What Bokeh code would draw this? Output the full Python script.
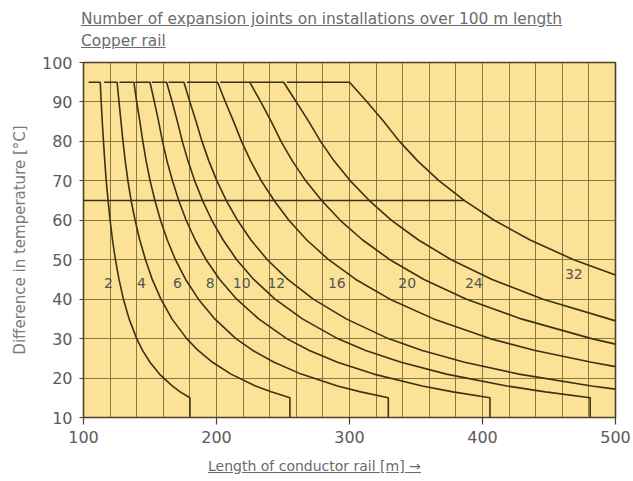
from bokeh.plotting import figure
from bokeh.models import FixedTicker, Div, Range1d
from bokeh.layouts import column
from bokeh.embed import file_html
from bokeh.resources import INLINE
from bokeh.core.properties import value

# ---------------- data ----------------
# temperature levels (deg C) at which the curve lengths were read
temp_levels = [95, 90, 85, 80, 75, 70, 65, 60, 55, 50, 45, 40, 35, 30, 27, 24, 21, 18, 16.5, 15]

joints = ["2", "4", "6", "8", "10", "12", "16", "20", "24", "32"]

# start of the flat part at 95 deg C for each curve (m)
flat_start = [103.8, 115.5, 127.0, 138.8, 151.4, 163.9, 177.7, 202.8, 225.3, 252.9]

# conductor length (m) of each curve at temp_levels
len_2 = [112.6, 113.3, 114.1, 115.0, 116.0, 117.1, 118.5, 120.0, 121.8, 124.0, 126.7, 130.0, 134.3, 140.0, 144.4, 150.0, 157.1, 166.7, 172.7, 180.0]
len_4 = [125.3, 126.7, 128.2, 129.7, 131.4, 133.4, 135.8, 138.8, 142.3, 146.6, 151.7, 158.2, 166.5, 177.6, 186.2, 197.0, 210.9, 229.3, 241.1, 255.2]
len_6 = [137.9, 140.0, 142.4, 144.6, 147.1, 150.1, 153.7, 157.9, 163.0, 169.1, 176.8, 186.4, 198.7, 214.6, 227.3, 243.3, 263.7, 291.0, 308.4, 329.2]
len_8 = [150.0, 153.3, 156.5, 159.4, 162.8, 166.9, 171.6, 177.2, 184.0, 192.2, 202.4, 215.2, 231.7, 252.8, 269.8, 291.0, 318.3, 354.7, 377.8, 405.6]
len_10 = [162.5, 166.7, 170.6, 174.3, 178.6, 183.6, 189.5, 196.5, 205.0, 215.2, 228.0, 244.0, 264.6, 291.0, 312.2, 338.8, 372.9, 418.3, 447.3, 481.0]
len_12 = [175.5, 180.0, 184.7, 189.1, 194.3, 200.3, 207.4, 215.8, 225.9, 238.2, 253.6, 272.8, 297.5, 329.2, 354.7, 386.5, 427.4, 482.0]
len_16 = [200.8, 206.7, 212.9, 218.8, 225.7, 233.7, 243.3, 254.4, 267.9, 284.3, 304.8, 330.4, 363.3, 405.6, 439.6, 482.0]
len_20 = [225.0, 233.3, 241.2, 248.5, 257.1, 267.1, 279.1, 293.0, 309.9, 330.4, 356.0, 388.0, 429.1, 482.0]
len_24 = [250.5, 260.0, 269.4, 278.2, 288.5, 300.6, 314.9, 331.6, 351.9, 376.5, 407.2, 445.6, 495.0]
len_32 = [300.0, 313.3, 325.9, 337.6, 351.4, 367.4, 386.5, 408.8, 435.8, 468.6]

# curves that leave through the right edge (500 m): temperature there
exit_len = 500
exit_temp_12 = 17.2
exit_temp_16 = 22.9
exit_temp_20 = 28.6
exit_temp_24 = 34.5
exit_temp_32 = 46.1

# curves that drop vertically to the bottom at their last length
bottom_temp = 10

# horizontal 65 deg C line
line65_x = [100, 386.5]
line65_y = [65, 65]

# curve labels
label_x = [118.8, 143.6, 170.7, 195.2, 219.0, 245.0, 290.5, 343.4, 393.5, 468.7]
label_y = [44.2, 44.2, 44.2, 44.2, 44.2, 44.2, 44.2, 44.2, 44.2, 46.4]

x_ticks = [100, 200, 300, 400, 500]
y_ticks = [10, 20, 30, 40, 50, 60, 70, 80, 90, 100]
x_grid = list(range(100, 501, 20))

title_1 = "Number of expansion joints on installations over 100 m length"
title_2 = "Copper rail"
x_title = "Length of conductor rail [m] \u2192"
y_title = "Difference in temperature [\u00b0C]"

# ---------------- build curves ----------------
lengths = [len_2, len_4, len_6, len_8, len_10, len_12, len_16, len_20, len_24, len_32]
exits = {5: exit_temp_12, 6: exit_temp_16, 7: exit_temp_20, 8: exit_temp_24, 9: exit_temp_32}

xs, ys = [], []
for i, ls in enumerate(lengths):
    cx = [flat_start[i]] + list(ls)
    cy = [95] + temp_levels[:len(ls)]
    if i in exits:
        cx.append(exit_len)
        cy.append(exits[i])
    else:
        cx.append(ls[-1])
        cy.append(bottom_temp)
    xs.append(cx)
    ys.append(cy)

INK = "#3b3113"
GRID = "#7d6b38"
FONT = "DejaVu Sans"
FIG_H = 396

p = figure(width=633, height=FIG_H,
           x_range=Range1d(100, 500), y_range=Range1d(10, 100),
           output_backend="svg", toolbar_location=None,
           min_border_left=83, min_border_right=18,
           min_border_top=8, min_border_bottom=33)
p.margin = 0
p.background_fill_color = "#fbe296"
p.border_fill_color = "white"
p.outline_line_color = "#4d4226"
p.outline_line_width = 1.6

p.xaxis.ticker = FixedTicker(ticks=x_ticks)
p.yaxis.ticker = FixedTicker(ticks=y_ticks)
p.xgrid.ticker = FixedTicker(ticks=x_grid)
p.ygrid.ticker = FixedTicker(ticks=y_ticks)
for g in (p.xgrid, p.ygrid):
    g.grid_line_color = GRID
    g.grid_line_width = 1
    g.grid_line_alpha = 0.9

for ax in (p.xaxis, p.yaxis):
    ax.axis_line_color = None
    ax.major_tick_line_color = "#4d4226"
    ax.major_tick_line_width = 1.2
    ax.major_tick_in = 0
    ax.minor_tick_line_color = None
    ax.major_label_text_font = FONT
    ax.major_label_text_font_size = "16px"
    ax.major_label_text_color = "#5b5b5b"
p.xaxis.major_tick_out = 7
p.xaxis.major_label_standoff = 6
p.yaxis.major_tick_out = 4
p.yaxis.major_label_standoff = 7

p.yaxis.axis_label = y_title
p.yaxis.axis_label_text_font = FONT
p.yaxis.axis_label_text_font_size = "15px"
p.yaxis.axis_label_text_font_style = "normal"
p.yaxis.axis_label_text_color = "#7a7a7a"
p.yaxis.axis_label_standoff = 10

p.line(line65_x, line65_y, line_color=INK, line_width=1.6)
p.multi_line(xs=xs, ys=ys, line_color=INK, line_width=1.6)

p.text(x=label_x, y=label_y, text=joints,
       text_font=value(FONT), text_font_size="14px", text_color="#555555",
       text_align="center", text_baseline="middle")

title_div = Div(
    text=(f'<div style="font-family:\'{FONT}\';font-size:15.4px;color:#6b6b6b;'
          f'line-height:22px;padding-top:8px;padding-left:81px;white-space:nowrap">'
          f'<span style="text-decoration:underline">{title_1}</span><br>'
          f'<span style="text-decoration:underline">{title_2}</span></div>'),
    width=633, height=54, margin=0)

xlabel_div = Div(
    text=(f'<div style="font-family:\'{FONT}\';font-size:14px;color:#6b6b6b;'
          f'line-height:16px;padding-top:8px;padding-left:208px;white-space:nowrap">'
          f'<span style="text-decoration:underline">{x_title}</span></div>'),
    width=633, height=31, margin=0)

layout = column(title_div, p, xlabel_div, spacing=0)

open("out.html", "w").write(file_html(layout, INLINE))
